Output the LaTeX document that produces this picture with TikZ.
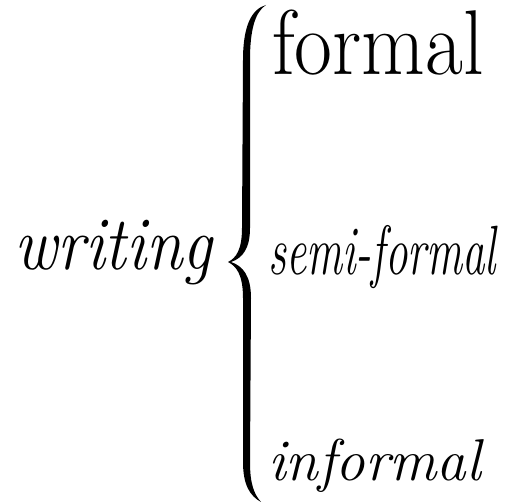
\documentclass[tikz,border=0pt]{standalone}
\usepackage{graphicx}
\tikzset{
  word/.style={inner sep=0pt, outer sep=0pt, anchor=base west, text=black},
  bracefill/.style={fill=black, draw=none}
}
\begin{document}
\begin{tikzpicture}[x=1pt,y=-1pt]
\useasboundingbox (0,0) rectangle (512,502);
% left word
\node[word] (writing) at (15,270) {\scalebox{1}[1.15]{\fontsize{66}{66}\selectfont\itshape writing}};
% brace
\path[bracefill] (266,5) .. controls (252,9) and (243,25) .. (243,60)
  -- (242,228) .. controls (242,250) and (236,258) .. (228,262)
  .. controls (236,266) and (243,274) .. (243,298)
  -- (243,462) .. controls (243,485) and (250,496) .. (261,502)
  .. controls (254,494) and (250,484) .. (250,462)
  -- (251,298) .. controls (251,276) and (243,266) .. (231,262)
  .. controls (243,258) and (250,248) .. (250,228)
  -- (250,60) .. controls (250,30) and (255,12) .. (266,5) -- cycle;
% right words
\node[word] (formal) at (272,75) {\scalebox{1.03}[1.15]{\fontsize{80}{80}\selectfont formal}};
\node[word] (semiformal) at (268,275) {\scalebox{1}[1.55]{\fontsize{45}{45}\selectfont\itshape semi-formal}};
\node[word] (informal) at (268,481) {\fontsize{59}{59}\selectfont\itshape informal};
\end{tikzpicture}
\end{document}
